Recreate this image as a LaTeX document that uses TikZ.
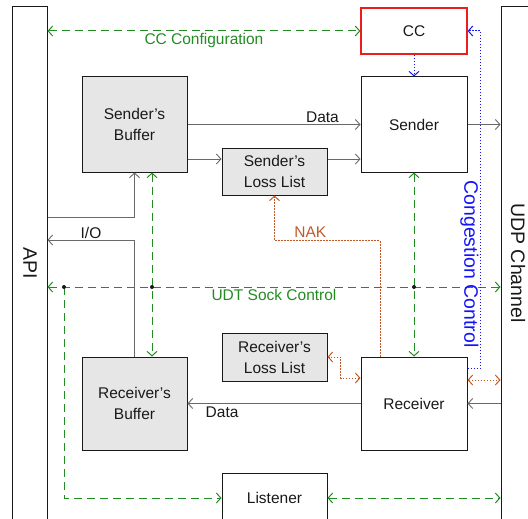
\documentclass[tikz,border=0pt]{standalone}
\usepackage{fontspec}
\setmainfont{Liberation Sans}
\usetikzlibrary{arrows.meta,positioning}
\definecolor{boxgray}{RGB}{230,230,230}
\definecolor{sockgreen}{RGB}{34,139,34}
\definecolor{congblue}{RGB}{20,20,250}
\definecolor{nakbrown}{RGB}{190,90,40}
\definecolor{datagray}{RGB}{105,105,105}
\definecolor{ccred}{RGB}{235,30,30}
\definecolor{lineblack}{RGB}{25,25,25}

\begin{document}
\begin{tikzpicture}[
  x=1pt, y=-1pt,
  >={Straight Barb[length=4.5pt, width=10pt]},
  modbox/.style={rectangle, draw=lineblack, line width=1pt, inner sep=0pt, align=center, text=lineblack, font=\fontsize{15.5}{21}\selectfont, minimum width=105pt},
  ccbox/.style={modbox, draw=ccred, line width=1.2pt},
  bar/.style={rectangle, draw=lineblack, line width=1pt, inner sep=0pt, fill=white},
  vlabel/.style={rotate=-90, font=\fontsize{19.5}{22}\selectfont, inner sep=0pt},
  datl/.style={draw=datagray, line width=0.9pt, ->},
  sock/.style={draw=sockgreen, line width=1pt, dash pattern=on 8pt off 5pt},
  cong/.style={draw=congblue, line width=1pt, dash pattern=on 1.6pt off 1.4pt},
  nak/.style={draw=nakbrown, line width=1pt, dash pattern=on 1.6pt off 1.4pt},
  lbl/.style={font=\fontsize{15.5}{18}\selectfont, inner sep=1pt}
]
\useasboundingbox (0,0) rectangle (528,519);
\clip (0,0) rectangle (528,519);

\node[bar, minimum width=35pt, minimum height=533pt] (api) at (29.5,273.5) {};
\node[bar, minimum width=44pt, minimum height=533pt] (udp) at (523,273.5) {};
\node[vlabel, text=lineblack] (apilbl) at (30,263) {API};
\node[vlabel, text=lineblack] (udplbl) at (518,263) {UDP Channel};

\node[ccbox, minimum width=106pt, minimum height=46pt] (cc) at (414,31) {CC};
\node[modbox, minimum width=106pt, minimum height=95pt] (sender) at (414,124.5) {Sender};
\node[modbox, fill=boxgray, minimum height=95pt] (sbuf) at (134.5,124.5) {Sender's\\Buffer};
\node[modbox, fill=boxgray, minimum height=47pt] (sloss) at (274.5,171.5) {Sender's\\Loss List};
\node[modbox, fill=boxgray, minimum height=48pt] (rloss) at (274.5,357) {Receiver's\\Loss List};
\node[modbox, fill=boxgray, minimum height=93pt] (rbuf) at (134.5,403.5) {Receiver's\\Buffer};
\node[modbox, minimum width=106pt, minimum height=93pt] (receiver) at (414,403.5) {Receiver};
\node[modbox, minimum height=50pt] (listener) at (274.5,498) {Listener};

\coordinate (j1) at (64,287);
\coordinate (j2) at (152,287);
\coordinate (j3) at (414,287);

\draw[sock, <->] (api.east |- cc.west) -- (cc.west)
  node[midway, below, lbl, text=sockgreen, yshift=-1pt] {CC Configuration};
\draw[sock, <->] (api.east |- j1) -- (udp.west |- j1)
  node[midway, below, lbl, text=sockgreen, yshift=-1pt] {UDT Sock Control};
\draw[sock, <->] (sbuf.south -| j2) -- (rbuf.north -| j2);
\draw[sock, <->] (sender.south) -- (receiver.north);
\draw[sock, ->] (j1) |- (listener.west);
\draw[sock, <->] (listener.east) -- (udp.west |- listener.east);
\foreach \j in {j1,j2,j3} \fill[lineblack] (\j) circle (2pt);

\draw[datl] (sbuf.east |- sender.west) -- (sender.west)
  node[pos=0.78, above, lbl, text=lineblack] {Data};
\draw[datl] (sbuf.east |- 0,159) -- (sloss.west |- 0,159);
\draw[datl] (sloss.east |- 0,159) -- (sender.west |- 0,159);
\draw[datl] (sender.east) -- (udp.west |- sender.east);
\draw[datl] (api.east |- 0,217) -| (sbuf.south);
\draw[datl] (rbuf.north) |- (api.east |- 0,240)
  node[pos=0.75, above, lbl, text=lineblack] {I/O};
\draw[datl] (udp.west |- receiver.east) -- (receiver.east);
\draw[datl] (receiver.west) -- (rbuf.east)
  node[pos=0.8, below, lbl, text=lineblack, yshift=-2pt] {Data};

\draw[cong, ->] (cc.south) -- (sender.north);
\draw[cong, ->] (receiver.east |- 0,368) -| ([xshift=13pt]cc.east) -- (cc.east);
\node[vlabel, text=congblue] (conglbl) at (469.5,264) {Congestion Control};

\draw[nak, ->] ([xshift=-34pt]receiver.north) |- ([yshift=-45pt]sloss.south)
  node[pos=0.83, above, lbl, text=nakbrown, yshift=2pt] {NAK} -- (sloss.south);
\draw[nak, <->] ([yshift=25.5pt]receiver.west) -| ([xshift=13pt]rloss.east) -- (rloss.east);
\draw[nak, <->] (receiver.east |- 0,380) -- (udp.west |- 0,380);
\end{tikzpicture}
\end{document}
